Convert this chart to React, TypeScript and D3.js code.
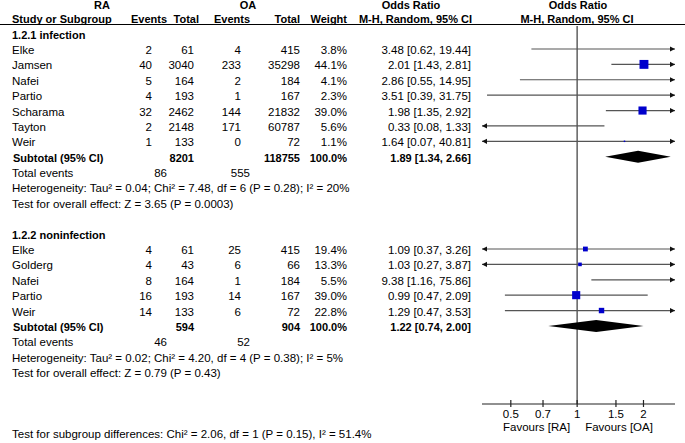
import React from "react";
import * as d3 from "d3";

const W = 685;
const H = 443;

// ---- data ----
const groupLabels = ["1.2.1 infection", "1.2.2 noninfection"];

const infStudies = ["Elke", "Jamsen", "Nafei", "Partio", "Scharama", "Tayton", "Weir"];
const infRAEvents = [2, 40, 5, 4, 32, 2, 1];
const infRATotal = [61, 3040, 164, 193, 2462, 2148, 133];
const infOAEvents = [4, 233, 2, 1, 144, 171, 0];
const infOATotal = [415, 35298, 184, 167, 21832, 60787, 72];
const infWeight = [3.8, 44.1, 4.1, 2.3, 39.0, 5.6, 1.1];
const infOR = [3.48, 2.01, 2.86, 3.51, 1.98, 0.33, 1.64];
const infLo = [0.62, 1.43, 0.55, 0.39, 1.35, 0.08, 0.07];
const infHi = [19.44, 2.81, 14.95, 31.75, 2.92, 1.33, 40.81];

const nonStudies = ["Elke", "Golderg", "Nafei", "Partio", "Weir"];
const nonRAEvents = [4, 4, 8, 16, 14];
const nonRATotal = [61, 43, 164, 193, 133];
const nonOAEvents = [25, 6, 1, 14, 6];
const nonOATotal = [415, 66, 184, 167, 72];
const nonWeight = [19.4, 13.3, 5.5, 39.0, 22.8];
const nonOR = [1.09, 1.03, 9.38, 0.99, 1.29];
const nonLo = [0.37, 0.27, 1.16, 0.47, 0.47];
const nonHi = [3.26, 3.87, 75.86, 2.09, 3.53];

const subRATotal = [8201, 594];
const subOATotal = [118755, 904];
const subOR = [1.89, 1.22];
const subLo = [1.34, 0.74];
const subHi = [2.66, 2.0];
const totRAEvents = [86, 46];
const totOAEvents = [555, 52];
const hetTexts = [
  "Heterogeneity: Tau\u00b2 = 0.04; Chi\u00b2 = 7.48, df = 6 (P = 0.28); I\u00b2 = 20%",
  "Heterogeneity: Tau\u00b2 = 0.02; Chi\u00b2 = 4.20, df = 4 (P = 0.38); I\u00b2 = 5%",
];
const effectTexts = [
  "Test for overall effect: Z = 3.65 (P = 0.0003)",
  "Test for overall effect: Z = 0.79 (P = 0.43)",
];
const subgroupText = "Test for subgroup differences: Chi\u00b2 = 2.06, df = 1 (P = 0.15), I\u00b2 = 51.4%";
const tickValues = [0.5, 0.7, 1, 1.5, 2];
const tickLabels = ["0.5", "0.7", "1", "1.5", "2"];
const favoursLeft = "Favours [RA]";
const favoursRight = "Favours [OA]";

const FONT = "'Liberation Sans', Arial, sans-serif";

type Row = {
  name: string; raE: number; raT: number; oaE: number; oaT: number;
  w: number; or: number; lo: number; hi: number;
};

function buildRows(names: string[], a: number[], b: number[], c: number[], d: number[], w: number[], or: number[], lo: number[], hi: number[]): Row[] {
  return names.map((n, i) => ({ name: n, raE: a[i], raT: b[i], oaE: c[i], oaT: d[i], w: w[i], or: or[i], lo: lo[i], hi: hi[i] }));
}

const groups = [
  buildRows(infStudies, infRAEvents, infRATotal, infOAEvents, infOATotal, infWeight, infOR, infLo, infHi),
  buildRows(nonStudies, nonRAEvents, nonRATotal, nonOAEvents, nonOATotal, nonWeight, nonOR, nonLo, nonHi),
];

export default function App() {
  const domain: [number, number] = [0.37, 2.78];
  const x = d3.scaleLog().domain(domain).range([482, 675]);
  const size = d3.scalePow().exponent(0.75).domain([0, 100]).range([0, 0.52 * Math.pow(100, 0.75)]);
  const rowH = 15.385;
  const y0 = 49;
  const rowY = (i: number) => y0 + i * rowH;
  const fmtCI = (o: number, l: number, h: number) => `${o.toFixed(2)} [${l.toFixed(2)}, ${h.toFixed(2)}]`;

  const lineColor = "#555";
  const REG = 11.5;
  const BOLD = 11;

  const elems: React.ReactNode[] = [];
  let key = 0;
  const T = (xx: number, yy: number, s: string, anchor: "start" | "middle" | "end" = "start", bold = false) => {
    elems.push(
      <text key={key++} x={xx} y={yy} textAnchor={anchor} fontWeight={bold ? "bold" : "normal"}
        fontFamily={FONT} fontSize={bold ? BOLD : REG} fill="#000">{s}</text>
    );
  };

  const ciMark = (r: { or: number; lo: number; hi: number }, cy: number, w: number) => {
    const [dLo, dHi] = domain;
    const leftArrow = r.lo <= dLo;
    const rightArrow = r.hi >= dHi;
    const xl = leftArrow ? x(dLo) : x(r.lo);
    const xr = rightArrow ? x(dHi) : x(r.hi);
    elems.push(<line key={key++} x1={xl} x2={xr} y1={cy} y2={cy} stroke={lineColor} strokeWidth={1.2} />);
    if (leftArrow) {
      elems.push(<path key={key++} d={`M${xl},${cy}L${xl + 5},${cy - 2.6}L${xl + 5},${cy + 2.6}Z`} fill="#111" />);
    }
    if (rightArrow) {
      elems.push(<path key={key++} d={`M${xr},${cy}L${xr - 5},${cy - 2.6}L${xr - 5},${cy + 2.6}Z`} fill="#111" />);
    }
    if (r.or > dLo && r.or < dHi) {
      const s = Math.max(1.5, size(w));
      elems.push(<rect key={key++} x={x(r.or) - s / 2} y={cy - s / 2} width={s} height={s} fill="#0000CC" />);
    }
  };

  const base = 5;
  let idx = -1;
  groups.forEach((rows, g) => {
    T(12, rowY(idx) + base, groupLabels[g], "start", true);
    idx++;
    rows.forEach((r) => {
      const cy = rowY(idx);
      const ty = cy + base;
      T(12, ty, r.name);
      T(152, ty, String(r.raE), "end");
      T(194, ty, String(r.raT), "end");
      T(241, ty, String(r.oaE), "end");
      T(300, ty, String(r.oaT), "end");
      T(347, ty, `${r.w.toFixed(1)}%`, "end");
      T(471, ty, fmtCI(r.or, r.lo, r.hi), "end");
      ciMark(r, cy, r.w);
      idx++;
    });
    {
      const cy = rowY(idx);
      const ty = cy + base;
      T(13, ty, "Subtotal (95% CI)", "start", true);
      T(194, ty, String(subRATotal[g]), "end", true);
      T(300, ty, String(subOATotal[g]), "end", true);
      T(347, ty, "100.0%", "end", true);
      T(471, ty, fmtCI(subOR[g], subLo[g], subHi[g]), "end", true);
      const xl = x(subLo[g]), xm = x(subOR[g]), xr = x(subHi[g]);
      elems.push(<path key={key++} d={`M${xl},${cy}L${xm},${cy - 6}L${xr},${cy}L${xm},${cy + 6}Z`} fill="#000" />);
      idx++;
    }
    T(12, rowY(idx) + base, "Total events");
    T(167, rowY(idx) + base, String(totRAEvents[g]), "end");
    T(250, rowY(idx) + base, String(totOAEvents[g]), "end");
    idx++;
    T(12, rowY(idx) + base, hetTexts[g]);
    idx++;
    T(12, rowY(idx) + base, effectTexts[g]);
    idx++;
    idx++;
  });

  const axisY = 404;
  const x1 = x(1);
  const hp = { fontFamily: FONT, fontSize: BOLD, fontWeight: "bold", fill: "#000" } as const;
  const rp = { fontFamily: FONT, fontSize: REG, fill: "#000" } as const;

  return (
    <svg width={W} height={H} style={{ position: "absolute", left: 0, top: 0, background: "#fff" }}>
      <rect x={0} y={0} width={W} height={H} fill="#fff" />
      <text x={102} y={9} textAnchor="middle" {...hp}>RA</text>
      <text x={248} y={9} textAnchor="middle" {...hp}>OA</text>
      <text x={411} y={9} textAnchor="middle" {...hp}>Odds Ratio</text>
      <text x={578} y={9} textAnchor="middle" {...hp}>Odds Ratio</text>
      <text x={12} y={22.5} {...hp}>Study or Subgroup</text>
      <text x={167} y={22.5} textAnchor="end" {...hp}>Events</text>
      <text x={199} y={22.5} textAnchor="end" {...hp}>Total</text>
      <text x={250} y={22.5} textAnchor="end" {...hp}>Events</text>
      <text x={300} y={22.5} textAnchor="end" {...hp}>Total</text>
      <text x={347} y={22.5} textAnchor="end" {...hp}>Weight</text>
      <text x={472} y={22.5} textAnchor="end" {...hp}>M-H, Random, 95% CI</text>
      <text x={577} y={22.5} textAnchor="middle" {...hp}>M-H, Random, 95% CI</text>
      <line x1={0} x2={W} y1={24.5} y2={24.5} stroke="#000" strokeWidth={1} />
      <line x1={x1} x2={x1} y1={26} y2={axisY} stroke="#6a6a6a" strokeWidth={1.6} />
      {elems}
      <line x1={x(domain[0])} x2={x(domain[1])} y1={axisY} y2={axisY} stroke="#222" strokeWidth={1.2} />
      {tickValues.map((t, i) => (
        <g key={`t${i}`}>
          <line x1={x(t)} x2={x(t)} y1={axisY - 4} y2={axisY + 3} stroke="#222" strokeWidth={1.2} />
          <text x={x(t)} y={418} textAnchor="middle" {...rp}>{tickLabels[i]}</text>
        </g>
      ))}
      <text x={x1 - 7} y={431} textAnchor="end" {...rp}>{favoursLeft}</text>
      <text x={x1 + 8} y={431} textAnchor="start" {...rp}>{favoursRight}</text>
      <text x={12} y={438} {...rp}>{subgroupText}</text>
    </svg>
  );
}
